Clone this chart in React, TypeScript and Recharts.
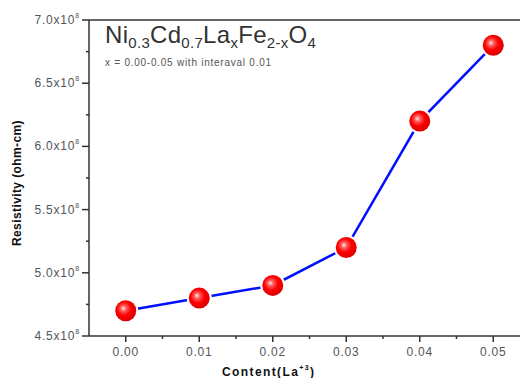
import React from "react";
import { LineChart, Line, XAxis, YAxis, ReferenceLine } from "recharts";

const contentLa = [0, 0.01, 0.02, 0.03, 0.04, 0.05];
const resistivity = [4.7e8, 4.8e8, 4.9e8, 5.2e8, 6.2e8, 6.8e8];
const xMajorTicks = [0, 0.01, 0.02, 0.03, 0.04, 0.05];
const xMinorTicks = [0.005, 0.015, 0.025, 0.035, 0.045];
const yMajorTicks = [4.5e8, 5.0e8, 5.5e8, 6.0e8, 6.5e8, 7.0e8];
const yMinorTicks = [4.75e8, 5.25e8, 5.75e8, 6.25e8, 6.75e8];

const data = contentLa.map((x, i) => ({ x, r: resistivity[i] }));
const xTicks = [...xMajorTicks, ...xMinorTicks].sort((a, b) => a - b);
const yTicks = [...yMajorTicks, ...yMinorTicks].sort((a, b) => a - b);

const isMajorX = (v: number) => xMajorTicks.some((t) => Math.abs(t - v) < 1e-9);
const isMajorY = (v: number) => yMajorTicks.some((t) => Math.abs(t - v) < 1);

const FONT = "'Liberation Sans', Arial, sans-serif";
const AXIS = "#333";

const XTick = (props: any) => {
  const { x, y, payload } = props;
  const major = isMajorX(payload.value);
  return (
    <g>
      <line x1={x} x2={x} y1={y} y2={y + (major ? 6 : 3)} stroke={AXIS} strokeWidth={1.5} />
      {major && (
        <text x={x} y={y + 20} textAnchor="middle" fontSize={12} letterSpacing={0.8} fill="#555" fontFamily={FONT}>
          {payload.value.toFixed(2)}
        </text>
      )}
    </g>
  );
};

const YTick = (props: any) => {
  const { x, y, payload } = props;
  const major = isMajorY(payload.value);
  return (
    <g>
      <line x1={x} x2={x - (major ? 7 : 3)} y1={y} y2={y} stroke={AXIS} strokeWidth={1.5} />
      {major && (
        <text x={80} y={y + 4} textAnchor="end" fontSize={12} letterSpacing={0.8} fill="#555" fontFamily={FONT}>
          {(payload.value / 1e8).toFixed(1) + "x10"}
          <tspan fontSize={7} dy={-6}>8</tspan>
        </text>
      )}
    </g>
  );
};

const Sphere = (props: any) => {
  const { cx, cy, index } = props;
  if (cx == null || cy == null) return null;
  const id = `sph${index}`;
  return (
    <g key={id}>
      <defs>
        <radialGradient id={id} cx="0.45" cy="0.42" r="0.6" fx="0.38" fy="0.38">
          <stop offset="0%" stopColor="#ffe8e8" />
          <stop offset="22%" stopColor="#ff6060" />
          <stop offset="55%" stopColor="#ff0000" />
          <stop offset="100%" stopColor="#d80000" />
        </radialGradient>
      </defs>
      <circle cx={cx} cy={cy} r={12.5} fill="#fff" />
      <circle cx={cx} cy={cy} r={10.5} fill={`url(#${id})`} />
    </g>
  );
};

export default function App() {
  return (
    <div style={{ position: "absolute", left: 0, top: 0, width: 520, height: 378, overflow: "hidden", background: "#fff" }}>
      <LineChart width={540} height={378} data={data} margin={{ top: 20, right: 10, bottom: 0, left: 0 }}>
        <XAxis
          dataKey="x"
          type="number"
          domain={[-0.005, 0.055]}
          ticks={xTicks}
          interval={0}
          tickSize={0}
          tickMargin={0}
          tick={<XTick />}
          height={42}
          axisLine={{ stroke: AXIS, strokeWidth: 1.5 }}
          allowDataOverflow
        />
        <YAxis
          type="number"
          domain={[4.5e8, 7.0e8]}
          ticks={yTicks}
          interval={0}
          tickSize={0}
          tickMargin={0}
          tick={<YTick />}
          width={89}
          axisLine={{ stroke: AXIS, strokeWidth: 1.5 }}
          allowDataOverflow
        />
        <ReferenceLine y={7.0e8} stroke={AXIS} strokeWidth={1.5} ifOverflow="visible" />
        <Line
          dataKey="r"
          stroke="#0010ff"
          strokeWidth={2.5}
          dot={<Sphere />}
          activeDot={false}
          isAnimationActive={false}
        />
      </LineChart>
      <svg width={520} height={378} style={{ position: "absolute", left: 0, top: 0, pointerEvents: "none" }}>
        <text x={105} y={43} fontSize={24} letterSpacing={0.3} fill="#333" fontFamily={FONT}>
          Ni<tspan fontSize={15} dy={5}>0.3</tspan>
          <tspan dy={-5}>Cd</tspan>
          <tspan fontSize={15} dy={5}>0.7</tspan>
          <tspan dy={-5}>La</tspan>
          <tspan fontSize={15} dy={5}>x</tspan>
          <tspan dy={-5}>Fe</tspan>
          <tspan fontSize={15} dy={5}>2-x</tspan>
          <tspan dy={-5}>O</tspan>
          <tspan fontSize={15} dy={5}>4</tspan>
        </text>
        <text x={105} y={66} fontSize={10} letterSpacing={0.75} fill="#555" fontFamily={FONT}>
          x = 0.00-0.05 with interaval 0.01
        </text>
        <text x={222} y={376} fontSize={12} fontWeight="bold" letterSpacing={1.4} fill="#111" fontFamily={FONT}>
          Content(La<tspan fontSize={7} dy={-6}>+3</tspan>
          <tspan dy={6}>)</tspan>
        </text>
        <text
          x={0}
          y={0}
          transform="translate(21,183) rotate(-90)"
          textAnchor="middle"
          fontSize={12}
          fontWeight="bold"
          letterSpacing={0.4}
          fill="#111"
          fontFamily={FONT}
        >
          Resistivity (ohm-cm)
        </text>
      </svg>
    </div>
  );
}
